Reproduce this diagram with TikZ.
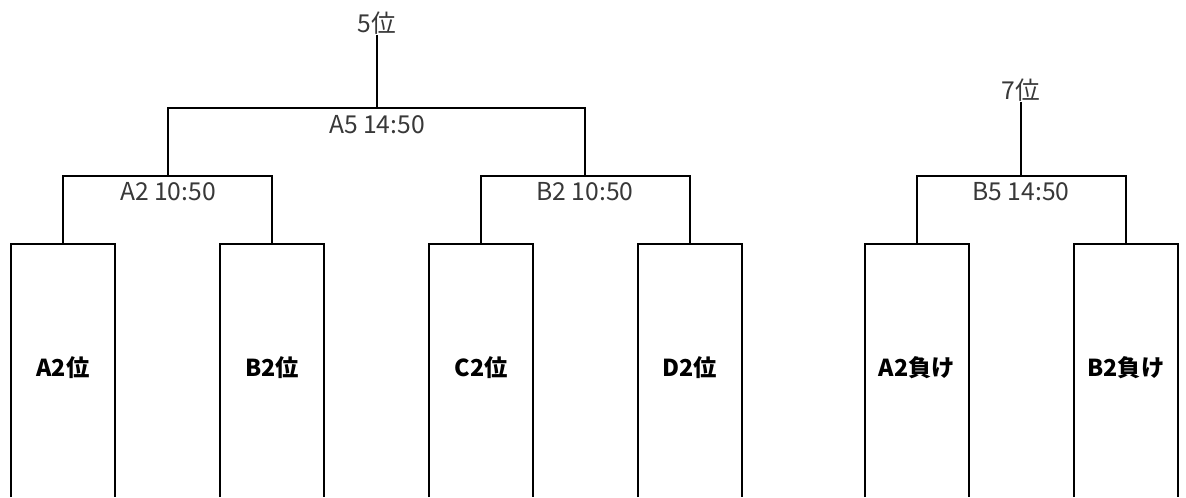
\documentclass[tikz,border=0pt]{standalone}
\usepackage{fontspec}
\setmainfont{Noto Sans CJK JP}
\usetikzlibrary{calc}

\begin{document}
\begin{tikzpicture}[x=0.75pt, y=-0.75pt]
  \tikzset{
    line/.style={black, line width=1.5pt},
    team/.style={font=\fontsize{17.5}{20}\selectfont\bfseries, text=black},
    game/.style={font=\fontsize{18.5}{21}\selectfont, text=black!78},
  }
  \useasboundingbox (0,0) rectangle (1186,497);
  % team boxes, open at the bottom
  \draw[line] (11,497) -- (11,244) -- (115,244) -- (115,497);
  \draw[line] (220,497) -- (220,244) -- (324,244) -- (324,497);
  \draw[line] (429,497) -- (429,244) -- (533,244) -- (533,497);
  \draw[line] (638,497) -- (638,244) -- (742,244) -- (742,497);
  \draw[line] (865,497) -- (865,244) -- (969,244) -- (969,497);
  \draw[line] (1074,497) -- (1074,244) -- (1178,244) -- (1178,497);
  \coordinate (a2top) at (63,244);
  \coordinate (b2top) at (272,244);
  \coordinate (c2top) at (481,244);
  \coordinate (d2top) at (690,244);
  \coordinate (a2ltop) at (917,244);
  \coordinate (b2ltop) at (1126,244);
  \node[team] (a2) at (63,368) {A2位};
  \node[team] (b2) at (272,368) {B2位};
  \node[team] (c2) at (481,368) {C2位};
  \node[team] (d2) at (690,368) {D2位};
  \node[team] (a2l) at (917,368) {A2負け};
  \node[team] (b2l) at (1126,368) {B2負け};
  % first round
  \coordinate (gA2) at (168,176);
  \coordinate (gB2) at (585,176);
  \coordinate (gB5) at (1021,176);
  \draw[line] (a2top) |- (gA2) -| (b2top);
  \draw[line] (c2top) |- (gB2) -| (d2top);
  \draw[line] (a2ltop) |- (gB5) -| (b2ltop);
  \node[game] (tA2) at (168,192) {A2 10:50};
  \node[game] (tB2) at (585,192) {B2 10:50};
  \node[game] (tB5) at (1021,192) {B5 14:50};
  % final
  \coordinate (gA5) at (377,108);
  \draw[line] (gA2) |- (gA5) -| (gB2);
  \node[game] (tA5) at (377,125) {A5 14:50};
  % places
  \node[game, inner sep=0pt] (p5) at (377,23) {5位};
  \node[game, inner sep=0pt] (p7) at (1021,90) {7位};
  \draw[line] (gA5) -- (p5.south);
  \draw[line] (gB5) -- (p7.south);
\end{tikzpicture}
\end{document}
